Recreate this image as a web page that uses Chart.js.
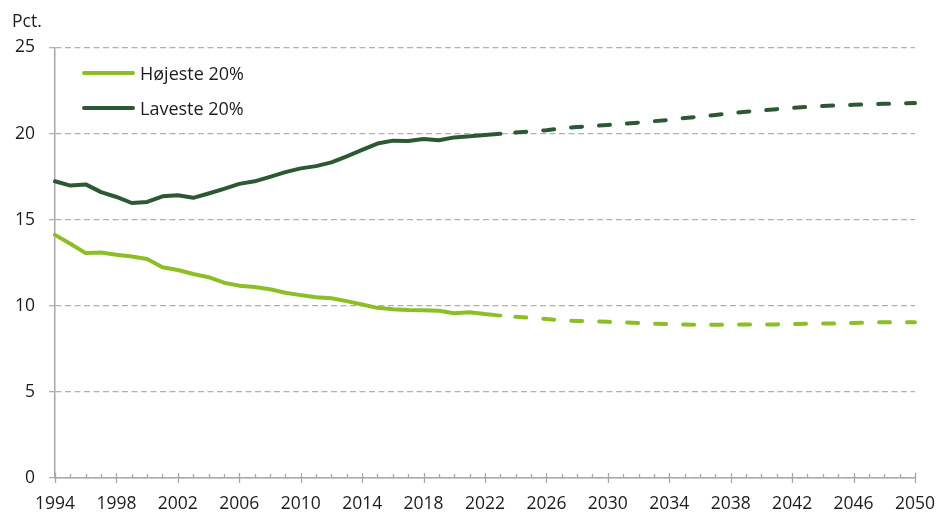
<!doctype html>
<html lang="da">
  <head>
    <meta charset="UTF-8" />
    <title>Højeste og laveste 20%</title>
    <script src="https://cdn.jsdelivr.net/npm/chart.js"></script>
    <style>
      body { margin: 0; background: #fff; font-family: "Open Sans", sans-serif; }
      #wrap { position: relative; width: 951px; height: 514px; }
      #unit { position: absolute; left: 12px; top: 10px; font-size: 17.5px; color: #1d1d1d; line-height: 20px; }
      #legend { position: absolute; left: 82px; top: 62.5px; }
      .item { display: flex; align-items: center; height: 20px; margin-bottom: 15.5px; font-size: 18px; color: #1d1d1d; }
      .swatch { width: 53px; height: 4px; border-radius: 2px; margin-right: 5px; }
    </style>
  </head>
  <body>
    <div id="wrap">
      <canvas id="chart" width="951" height="514"></canvas>
      <div id="unit">Pct.</div>
      <div id="legend"></div>
    </div>

    <script>
      // data, 1994-2050, projection from 2023
      const years = [];
      for (let y = 1994; y <= 2050; y++) years.push(String(y));
      const lastHistYear = "2023";

      const hoejeste = [
        14.12, 13.6, 13.06, 13.09, 12.96, 12.86, 12.72, 12.24, 12.08, 11.85,
        11.66, 11.34, 11.17, 11.09, 10.96, 10.76, 10.62, 10.5, 10.44, 10.27,
        10.08, 9.88, 9.8, 9.75, 9.74, 9.71, 9.57, 9.63, 9.52, 9.43,
        9.36, 9.3, 9.23, 9.16, 9.12, 9.1, 9.07, 9.04, 9.0, 8.96,
        8.93, 8.91, 8.9, 8.9, 8.91, 8.91, 8.91, 8.92, 8.94, 8.96,
        8.97, 8.98, 9.0, 9.03, 9.05, 9.05, 9.05,
      ];
      const laveste = [
        17.23, 16.98, 17.05, 16.6, 16.32, 15.97, 16.03, 16.36, 16.42, 16.27,
        16.52, 16.79, 17.08, 17.23, 17.49, 17.76, 17.98, 18.11, 18.33, 18.68,
        19.05, 19.42, 19.59, 19.57, 19.69, 19.61, 19.78, 19.84, 19.92, 19.99,
        20.06, 20.12, 20.2, 20.3, 20.38, 20.44, 20.5, 20.57, 20.64, 20.72,
        20.8, 20.9, 20.99, 21.08, 21.18, 21.27, 21.35, 21.42, 21.49, 21.55,
        21.6, 21.64, 21.67, 21.7, 21.73, 21.75, 21.77,
      ];
      const seriesNames = ["Højeste 20%", "Laveste 20%"];
      const seriesColors = ["#8cbf26", "#2c5934"];
      const yTicks = [0, 5, 10, 15, 20, 25];

      const histEnd = years.indexOf(lastHistYear);
      const gray = "#a8a8a8";
      const font = { family: "'Open Sans', sans-serif", size: 17.5 };

      function makeDataset(label, data, color) {
        return {
          label: label,
          data: data,
          borderColor: color,
          backgroundColor: color,
          borderWidth: 4,
          borderCapStyle: "round",
          borderJoinStyle: "round",
          pointRadius: 0,
          tension: 0,
          segment: {
            borderDash: (ctx) => (ctx.p0DataIndex >= histEnd ? [11, 17] : undefined),
            borderDashOffset: (ctx) => (ctx.p0DataIndex >= histEnd ? 13 : undefined),
          },
        };
      }

      // small ticks on the year axis, every 4th one longer
      const yearTicks = {
        id: "yearTicks",
        beforeDatasetsDraw(chart) {
          const xs = chart.scales.x;
          const ctx = chart.ctx;
          const b = chart.chartArea.bottom;
          ctx.save();
          ctx.strokeStyle = gray;
          ctx.lineWidth = 1.3;
          years.forEach((yr, i) => {
            const x = Math.round(xs.getPixelForValue(i)) + 0.5;
            ctx.beginPath();
            if (i % 4 === 0) {
              ctx.moveTo(x, b - 5);
              ctx.lineTo(x, b + 5);
            } else {
              ctx.moveTo(x, b - 4);
              ctx.lineTo(x, b);
            }
            ctx.stroke();
          });
          ctx.restore();
        },
      };

      const chart = new Chart(document.getElementById("chart"), {
        type: "line",
        data: {
          labels: years,
          datasets: [
            makeDataset(seriesNames[0], hoejeste, seriesColors[0]),
            makeDataset(seriesNames[1], laveste, seriesColors[1]),
          ],
        },
        options: {
          responsive: false,
          animation: false,
          devicePixelRatio: 1,
          layout: { padding: { left: 0, right: 33, top: 47.5, bottom: 0 } },
          plugins: {
            legend: { display: false },
            tooltip: { enabled: false },
          },
          scales: {
            x: {
              type: "category",
              offset: false,
              grid: { display: true, drawOnChartArea: false, drawTicks: false },
              border: { display: true, color: gray, width: 1.5 },
              ticks: {
                autoSkip: false,
                maxRotation: 0,
                padding: 16,
                color: "#1d1d1d",
                font: font,
                callback: function (v, i) {
                  return i % 4 === 0 ? this.getLabelForValue(v) : "";
                },
              },
              afterFit: (s) => { s.height = 36; },
            },
            y: {
              min: yTicks[0],
              max: yTicks[yTicks.length - 1],
              afterBuildTicks: (s) => { s.ticks = yTicks.map((v) => ({ value: v })); },
              grid: {
                color: "#b0b0b0",
                lineWidth: 1.3,
                tickLength: 6,
                tickBorderDash: [],
              },
              border: { display: true, color: gray, width: 1.5, dash: [6, 3.5] },
              ticks: { padding: 14, color: "#1d1d1d", font: font },
              afterFit: (s) => { s.width = 55; },
            },
          },
        },
        plugins: [yearTicks],
      });

      // legend drawn as html, from the chart datasets
      const legend = document.getElementById("legend");
      chart.data.datasets.forEach((ds) => {
        const item = document.createElement("div");
        item.className = "item";
        item.innerHTML = `<span class="swatch" style="background:${ds.borderColor}"></span><span>${ds.label}</span>`;
        legend.appendChild(item);
      });
    </script>
  </body>
</html>
